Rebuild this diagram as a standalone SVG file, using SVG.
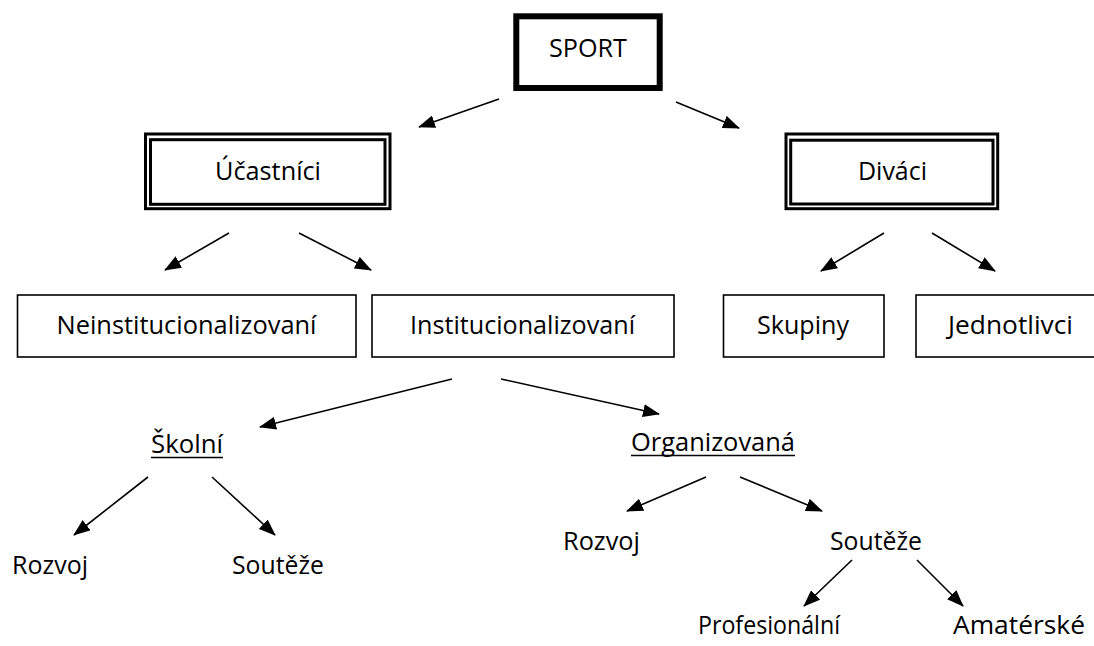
<svg xmlns="http://www.w3.org/2000/svg" width="1094" height="646" viewBox="0 0 1094 646">
<style>
text{font-family:"Open Sans","Noto Sans","Liberation Sans",sans-serif;font-size:26px;fill:#000;text-anchor:middle}
.b{fill:#fff;stroke:#000;stroke-width:1.6}
.d{fill:none;stroke:#000;stroke-width:3}
.c line{stroke:#000;stroke-width:1.6;marker-end:url(#ah)}
.u{stroke:#000;stroke-width:1.6}
</style>
<defs>
<marker id="ah" markerUnits="userSpaceOnUse" markerWidth="17" markerHeight="13" refX="16" refY="6.5" orient="auto">
<path d="M0,0 L17,6.5 L0,13 z" fill="#000"/>
</marker>
</defs>
<rect width="1094" height="646" fill="#fff"/>
<g id="sport">
<rect x="516.3" y="16.3" width="143.4" height="71.7" fill="#fff" stroke="#000" stroke-width="6"/>
<text x="588" y="57" textLength="78" lengthAdjust="spacingAndGlyphs">SPORT</text>
</g>
<g id="ucastnici">
<rect class="d" x="145.5" y="134" width="244.5" height="74.7"/>
<rect class="d" x="150.5" y="139.7" width="234.5" height="64.6"/>
<text x="268" y="179.5" textLength="106" lengthAdjust="spacingAndGlyphs">Účastníci</text>
</g>
<g id="divaci">
<rect class="d" x="786" y="134" width="211.7" height="74.7"/>
<rect class="d" x="790.7" y="140.2" width="202.3" height="63.8"/>
<text x="892.5" y="179.5" textLength="69" lengthAdjust="spacingAndGlyphs">Diváci</text>
</g>
<g id="neinst">
<rect class="b" x="17.5" y="295" width="338.5" height="62"/>
<text x="186.5" y="334" textLength="260" lengthAdjust="spacingAndGlyphs">Neinstitucionalizovaní</text>
</g>
<g id="inst">
<rect class="b" x="372" y="295" width="302" height="62"/>
<text x="522.5" y="334" textLength="225" lengthAdjust="spacingAndGlyphs">Institucionalizovaní</text>
</g>
<g id="skupiny">
<rect class="b" x="723.5" y="295" width="160.5" height="62"/>
<text x="803" y="334" textLength="92" lengthAdjust="spacingAndGlyphs">Skupiny</text>
</g>
<g id="jednotlivci">
<rect class="b" x="916" y="295" width="190" height="62"/>
<text x="1010.5" y="334" textLength="125" lengthAdjust="spacingAndGlyphs">Jednotlivci</text>
</g>
<g id="skolni">
<text x="187" y="452.5" textLength="72" lengthAdjust="spacingAndGlyphs">Školní</text>
<line class="u" x1="151" y1="457.5" x2="223" y2="457.5"/>
</g>
<g id="organizovana">
<text x="713" y="450.5" textLength="164" lengthAdjust="spacingAndGlyphs">Organizovaná</text>
<line class="u" x1="631" y1="455.5" x2="795" y2="455.5"/>
</g>
<g id="rozvoj1">
<text x="50" y="573.5" textLength="76" lengthAdjust="spacingAndGlyphs">Rozvoj</text>
</g>
<g id="souteze1">
<text x="278" y="573.5" textLength="92" lengthAdjust="spacingAndGlyphs">Soutěže</text>
</g>
<g id="rozvoj2">
<text x="601.5" y="549.5" textLength="77" lengthAdjust="spacingAndGlyphs">Rozvoj</text>
</g>
<g id="souteze2">
<text x="876" y="549.5" textLength="92" lengthAdjust="spacingAndGlyphs">Soutěže</text>
</g>
<g id="profesionalni">
<text x="769" y="634" textLength="142" lengthAdjust="spacingAndGlyphs">Profesionální</text>
</g>
<g id="amaterske">
<text x="1019" y="634" textLength="132" lengthAdjust="spacingAndGlyphs">Amatérské</text>
</g>
<g id="connectors" class="c">
<line x1="499" y1="99" x2="419" y2="127"/>
<line x1="676" y1="102" x2="739" y2="128"/>
<line x1="229" y1="233" x2="165" y2="270"/>
<line x1="299" y1="233" x2="371" y2="270"/>
<line x1="884" y1="233" x2="821" y2="271"/>
<line x1="932" y1="233" x2="995" y2="271"/>
<line x1="452" y1="379" x2="260" y2="427"/>
<line x1="501" y1="379" x2="659" y2="414"/>
<line x1="148" y1="477" x2="74" y2="535"/>
<line x1="212" y1="477" x2="275" y2="535"/>
<line x1="706" y1="477" x2="627" y2="511"/>
<line x1="740" y1="477" x2="822" y2="511"/>
<line x1="852" y1="560" x2="804" y2="606"/>
<line x1="917" y1="560" x2="963" y2="606"/>
</g>
</svg>
